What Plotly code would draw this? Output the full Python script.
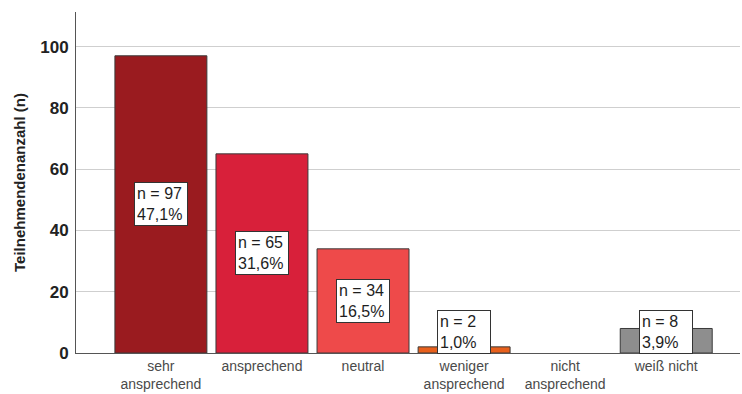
import plotly.graph_objects as go

categories = ["sehr<br>ansprechend", "ansprechend", "neutral",
              "weniger<br>ansprechend", "nicht<br>ansprechend", "weiß nicht"]
counts = [97, 65, 34, 2, 0, 8]
colors = ["#9A1B1F", "#D8203A", "#EE4A4A", "#E8601C", "#E8601C", "#8E8E8E"]

total = sum(counts)
y_ticks = [0, 20, 40, 60, 80, 100]

fig = go.Figure()
fig.add_trace(go.Bar(
    x=categories, y=counts, width=0.91,
    marker=dict(color=colors,
                line=dict(color="#3a3a3a", width=[1 if n > 0 else 0 for n in counts])),
    hoverinfo="skip",
))

# value boxes: count and share, centred on the bar (kept above the baseline for small bars)
for cat, n in zip(categories, counts):
    if n == 0:
        continue
    pct = f"{100 * n / total:.1f}".replace(".", ",")
    fig.add_annotation(
        x=cat, y=max(n / 2, 7.0), text=f"n = {n}<br>{pct}%",
        showarrow=False, bgcolor="white", bordercolor="#333333", borderwidth=1,
        borderpad=2, align="left", width=48,
        font=dict(family="Liberation Sans, Arial, sans-serif", size=16, color="#1e1e1e"),
    )

fig.update_layout(
    width=742, height=394,
    margin=dict(l=76, r=2, t=12, b=37),
    paper_bgcolor="white", plot_bgcolor="white",
    showlegend=False,
    font=dict(family="Liberation Sans, Arial, sans-serif"),
)
fig.update_xaxes(
    type="category", range=[-0.84, 5.73],
    showline=True, linecolor="#555555", linewidth=1,
    ticks="", tickfont=dict(size=14, color="#4a4a4a"),
    showgrid=False,
)
fig.update_yaxes(
    range=[0, 111.3], tickvals=y_ticks,
    showline=True, linecolor="#555555", linewidth=1,
    showgrid=True, gridcolor="#cfcfcf", gridwidth=1, zeroline=False,
    ticks="", ticklabelstandoff=3,
    tickfont=dict(size=17, color="#222222", family="Liberation Sans, Arial, sans-serif", weight="bold"),
    title=dict(text="<b>Teilnehmendenanzahl (n)</b>", font=dict(size=15, color="#222222"), standoff=10),
)

fig.write_html("out.html")
